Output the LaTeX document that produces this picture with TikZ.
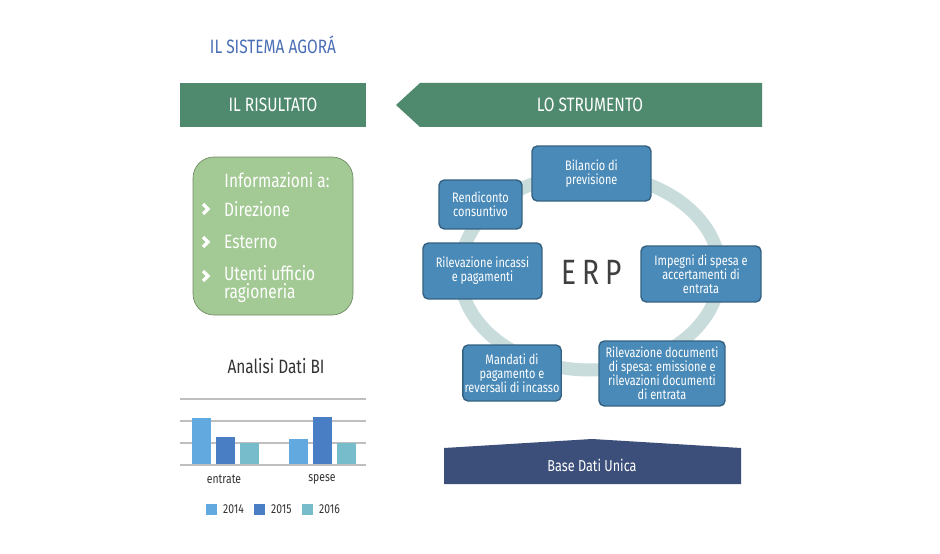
\documentclass[tikz,border=0pt]{standalone}
\usepackage{fontspec}
\setmainfont{Fira Sans}[FakeStretch=0.8]
\usetikzlibrary{positioning,calc}
\definecolor{bannergreen}{HTML}{4F8A6E}
\definecolor{softgreen}{HTML}{A3C994}
\definecolor{stepblue}{HTML}{4A8AB8}
\definecolor{ringgray}{HTML}{C9DCDC}
\definecolor{basenavy}{HTML}{3B4F7A}
\definecolor{titleblue}{HTML}{4A6FB5}
\definecolor{bar14}{HTML}{62A9E0}
\definecolor{bar15}{HTML}{4A7EC4}
\definecolor{bar16}{HTML}{77BCCB}
\tikzset{
  phase/.style={draw=stepblue!70!black, fill=stepblue, rounded corners=3pt, thick,
    text=white, align=center, font=\fontsize{7.8}{8}\selectfont, inner sep=1pt},
  banner/.style={text=white, font=\fontsize{11}{12}\selectfont},
  item/.style={text=white, anchor=west, font=\fontsize{11}{10.5}\selectfont, align=left},
  small/.style={font=\fontsize{7.4}{8}\selectfont, text=black!80}
}
\begin{document}
\begin{tikzpicture}[x=0.02cm, y=-0.02cm]
\useasboundingbox[fill=white] (0,0) rectangle (940,554);
% title
\node[text=titleblue, font=\fontsize{11}{12}\selectfont] (title) at (273,45) {IL SISTEMA AGOR\'A};
% banners
\fill[bannergreen] (180,83) rectangle (366,127);
\node[banner] (risultato) at (273,105) {IL RISULTATO};
\fill[bannergreen] (396,105) -- (420,83) -- (762,83) -- (762,127) -- (420,127) -- cycle;
\node[banner] (strumento) at (590,105) {LO STRUMENTO};
% info box
\draw[draw=softgreen!70!black, fill=softgreen, rounded corners=12pt] (193,157) rectangle (353,315);
\node[text=white, font=\fontsize{11}{12}\selectfont] (info) at (277,180) {Informazioni a:};
\foreach \y/\b/\t in {209/209/Direzione, 242/242/Esterno, 284/276/{Utenti ufficio\\ragioneria}}{
  \draw[white, line width=2pt] (203,\b-5) -- (208,\b) -- (203,\b+5);
  \node[item] at (218,\y) {\t};
}
% chart
\node[font=\fontsize{11}{12}\selectfont, text=black!80] (analisi) at (276,366) {Analisi Dati BI};
\foreach \y in {399,421,443}{ \draw[black!25, thick] (180,\y) -- (366,\y); }
\foreach \x/\h/\c in {192/418/bar14, 216/437/bar15, 240/443/bar16, 289/439/bar14, 313/417/bar15, 337/443/bar16}{
  \fill[\c] (\x,465) rectangle (\x+19,\h);
}
\draw[black!25, thick] (180,465) -- (366,465);
\node[small] at (224,479) {entrate};
\node[small] at (322,479) {spese};
\foreach \x/\c/\t in {206/bar14/2014, 254/bar15/2015, 302/bar16/2016}{
  \fill[\c] (\x,504) rectangle (\x+11,515);
  \node[small, anchor=west] at (\x+11,509.5) {\t};
}
% cycle
\draw[ringgray, line width=0.26cm] (590,272) ellipse [x radius=130, y radius=98];
\node[text=black!75, font=\fontsize{20}{20}\selectfont, text width=2cm, align=center] (erp) at (592,272) {E\,R\,P};
\node[phase, minimum width=2.38cm, minimum height=1.1cm] (bilancio) at (591.5,173.5) {Bilancio di\\previsione};
\node[phase, minimum width=1.66cm, minimum height=0.98cm] (rendiconto) at (480.5,204.5) {Rendiconto\\consuntivo};
\node[phase, minimum width=2.38cm, minimum height=1.12cm] (incassi) at (482.5,271) {Rilevazione incassi\\e pagamenti};
\node[phase, minimum width=2.4cm, minimum height=1.12cm] (impegni) at (701,274) {Impegni di spesa e\\accertamenti di\\entrata};
\node[phase, minimum width=1.84cm, minimum height=1.12cm] (mandati) at (512,373) {Mandati di\\pagamento e\\reversali di incasso};
\node[phase, minimum width=2.52cm, minimum height=1.3cm] (documenti) at (662,373.5) {Rilevazione documenti\\di spesa: emissione e\\rilevazioni documenti\\di entrata};
% base dati
\fill[basenavy] (444,448) -- (592,439) -- (741,448) -- (741,484) -- (444,484) -- cycle;
\node[text=white, font=\fontsize{9}{10}\selectfont] (base) at (592,465) {Base Dati Unica};
\end{tikzpicture}
\end{document}
